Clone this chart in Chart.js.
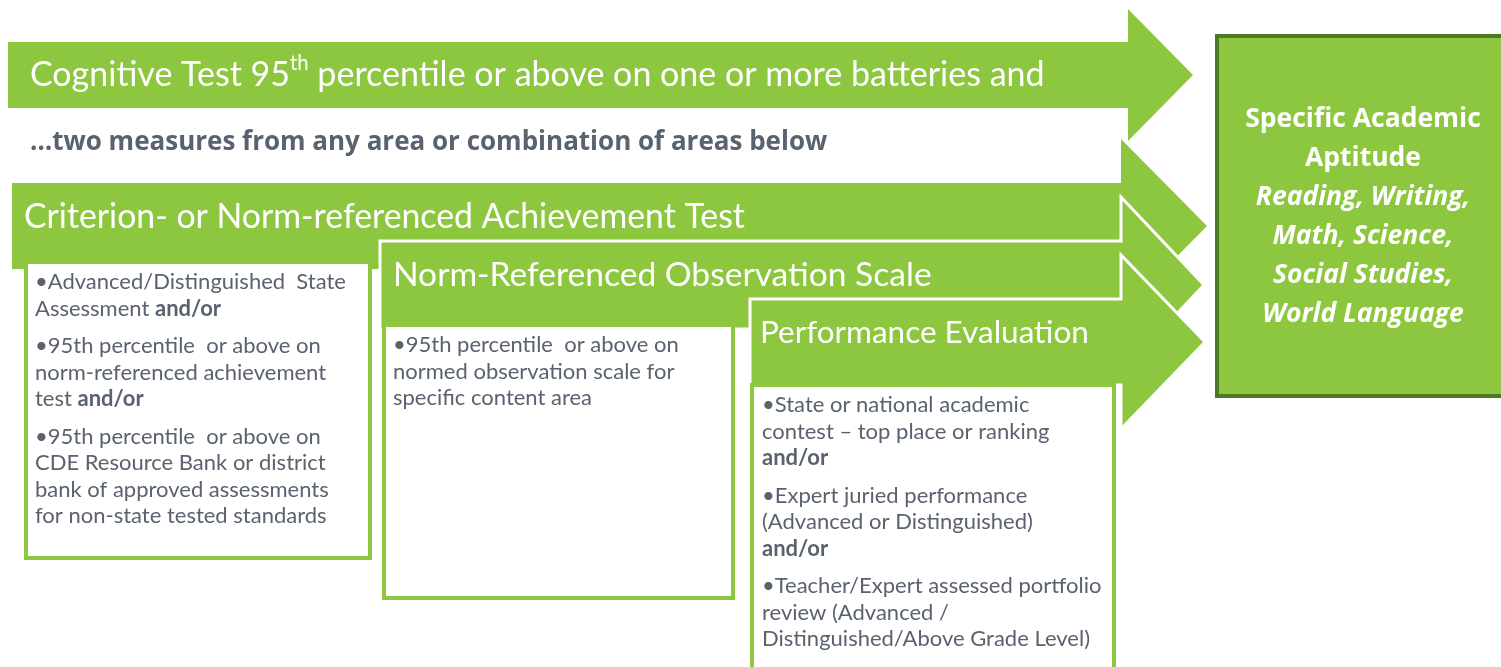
<!DOCTYPE html>
<html>
<head>
<meta charset="utf-8">
<script src="https://cdn.jsdelivr.net/npm/chart.js@4.4.1/dist/chart.umd.min.js"></script>
<style>
    html, body { margin: 0; padding: 0; background: #fff; overflow: hidden; }
    canvas { display: block; }
</style>
</head>
<body>
<canvas id="flow" width="1501" height="667"></canvas>
<script>
// arrows, top to bottom (left, body top, body bottom, head base, tip, head half height)
const arrowLeft = [8, 12, 380, 750]
const arrowTop = [42, 183, 241, 299]
const arrowBottom = [108, 269, 329, 385]
const arrowHeadX = [1128, 1121, 1121, 1121]
const arrowTipX = [1193, 1207, 1204, 1205]
const arrowHeadHalf = [66, 87, 88, 87]
const arrowOutline = [0, 0, 3, 3]

// white boxes under arrows 2..4
const boxLeft = [26, 384, 752]
const boxTop = [262, 325, 385]
const boxRight = [370, 733, 1114]
const boxBottom = [558, 598, 700]

const titles = [
    [{ t: 'Cognitive Test 95' }, { t: 'th', sup: true }, { t: ' percentile or above on one or more batteries and' }],
    [{ t: 'Criterion- or Norm-referenced Achievement Test' }],
    [{ t: 'Norm-Referenced Observation Scale' }],
    [{ t: 'Performance Evaluation' }],
]
const titleX = [30, 24, 393, 760]
const titleY = [75, 217, 275, 333]
const titleSize = [34, 33.8, 33.6, 31.5]

const connector = '…two measures from any area or combination of areas below'

const boxParagraphs = [
    [
        [[{ t: '•Advanced/Distinguished  State' }], [{ t: 'Assessment ' }, { t: 'and/or', b: true }]],
        [[{ t: '•95th percentile  or above on' }], [{ t: 'norm-referenced achievement' }], [{ t: 'test ' }, { t: 'and/or', b: true }]],
        [[{ t: '•95th percentile  or above on' }], [{ t: 'CDE Resource Bank or district' }], [{ t: 'bank of approved assessments' }], [{ t: 'for non-state tested standards' }]],
    ],
    [
        [[{ t: '•95th percentile  or above on' }], [{ t: 'normed observation scale for' }], [{ t: 'specific content area' }]],
    ],
    [
        [[{ t: '•State or national academic' }], [{ t: 'contest – top place or ranking' }], [{ t: 'and/or', b: true }]],
        [[{ t: '•Expert juried performance' }], [{ t: '(Advanced or Distinguished)' }], [{ t: 'and/or', b: true }]],
        [[{ t: '•Teacher/Expert assessed portfolio' }], [{ t: 'review (Advanced /' }], [{ t: 'Distinguished/Above Grade Level)' }]],
    ],
]
const boxTextX = [35, 393, 762]
const boxTextY = [282, 345, 405]

const outcomeLines = ['Specific Academic', 'Aptitude', 'Reading, Writing,', 'Math, Science,', 'Social Studies,', 'World Language']
const outcomeItalic = [false, false, true, true, true, true]

const green = '#8dc63f'
const darkGreen = '#4e7a26'
const grayText = '#5a6270'
const font = 'Lato, "Open Sans", sans-serif'
const boldFont = '"Open Sans", Lato, sans-serif'

const pts = arr => arr.map(([x, y]) => ({ x: x, y: y }))

const arrowPoints = i => {
    const l = arrowLeft[i], t = arrowTop[i], b = arrowBottom[i], hx = arrowHeadX[i]
    const mid = (t + b) / 2
    const startX = (l + hx) / 2
    return pts([[startX, b], [l, b], [l, t], [hx, t], [hx, mid - arrowHeadHalf[i]],
        [arrowTipX[i], mid], [hx, mid + arrowHeadHalf[i]], [hx, b], [startX, b]])
}
const boxPoints = i => {
    const l = boxLeft[i], t = boxTop[i], r = boxRight[i], b = boxBottom[i]
    const m = (l + r) / 2
    return pts([[m, t], [r, t], [r, b], [l, b], [l, t], [m, t]])
}

const shapeSet = (data, fillColor, lineColor, lineWidth) => ({
    data: data,
    showLine: true,
    fill: 'shape',
    backgroundColor: fillColor,
    borderColor: lineWidth ? lineColor : 'transparent',
    borderWidth: lineWidth,
    borderJoinStyle: 'miter',
    pointRadius: 0,
    tension: 0,
    clip: false,
})

let datasets = []
datasets.push(shapeSet(arrowPoints(0), green, '#fff', arrowOutline[0]))
datasets.push(shapeSet(arrowPoints(1), green, '#fff', arrowOutline[1]))
datasets.push(shapeSet(boxPoints(0), '#fff', green, 4))
datasets.push(shapeSet(arrowPoints(2), green, '#fff', arrowOutline[2]))
datasets.push(shapeSet(boxPoints(1), '#fff', green, 4))
datasets.push(shapeSet(arrowPoints(3), green, '#fff', arrowOutline[3]))
datasets.push(shapeSet(boxPoints(2), '#fff', green, 4))
datasets.push(shapeSet(pts([[1360, 36], [1530, 36], [1530, 396], [1217, 396], [1217, 36], [1360, 36]]), green, darkGreen, 4))
datasets.forEach((d, i) => d.order = -i)

// draws a line made of runs (normal / bold / superscript)
const drawRuns = (ctx, runs, x, y, size, color, weight, family) => {
    let cx = x
    for (let r of runs) {
        const s = r.sup ? size * 0.6 : size
        ctx.font = `${r.b ? 'bold' : weight} ${s}px ${family || font}`
        ctx.fillStyle = color
        ctx.fillText(r.t, cx, r.sup ? y - size * 0.35 : y)
        cx += ctx.measureText(r.t).width
    }
}

const textPlugin = {
    id: 'diagramText',
    afterDatasetsDraw(chart) {
        const ctx = chart.ctx
        const xs = chart.scales.x, ys = chart.scales.y
        ctx.save()
        ctx.textBaseline = 'middle'
        ctx.textAlign = 'left'
        titles.forEach((runs, i) => {
            drawRuns(ctx, runs, xs.getPixelForValue(titleX[i]), ys.getPixelForValue(titleY[i]), titleSize[i], '#fff', 'normal')
        })
        drawRuns(ctx, [{ t: connector, b: true }], xs.getPixelForValue(30), ys.getPixelForValue(143), 26, '#596370', 'bold', boldFont)

        boxParagraphs.forEach((paras, i) => {
            let y = boxTextY[i]
            paras.forEach((lines, p) => {
                if (p > 0) y += 11
                lines.forEach(line => {
                    drawRuns(ctx, line, xs.getPixelForValue(boxTextX[i]), ys.getPixelForValue(y), 22, grayText, 'normal')
                    y += 26.5
                })
            })
        })

        ctx.textAlign = 'center'
        ctx.fillStyle = '#fff'
        outcomeLines.forEach((txt, i) => {
            ctx.font = `${outcomeItalic[i] ? 'italic ' : ''}bold 26.5px ${boldFont}`
            ctx.fillText(txt, xs.getPixelForValue(1363), ys.getPixelForValue(119 + i * 39))
        })
        ctx.restore()
    }
}

const ctx = document.querySelector('#flow').getContext('2d')
const flowChart = new Chart(ctx, {
    type: 'scatter',
    data: { datasets: datasets },
    options: {
        responsive: false,
        animation: false,
        events: [],
        layout: { padding: 0 },
        plugins: { legend: { display: false }, tooltip: { enabled: false } },
        scales: {
            x: { type: 'linear', min: 0, max: 1501, display: false },
            y: { type: 'linear', min: 0, max: 667, reverse: true, display: false },
        },
    },
    plugins: [textPlugin],
})
</script>
</body>
</html>
